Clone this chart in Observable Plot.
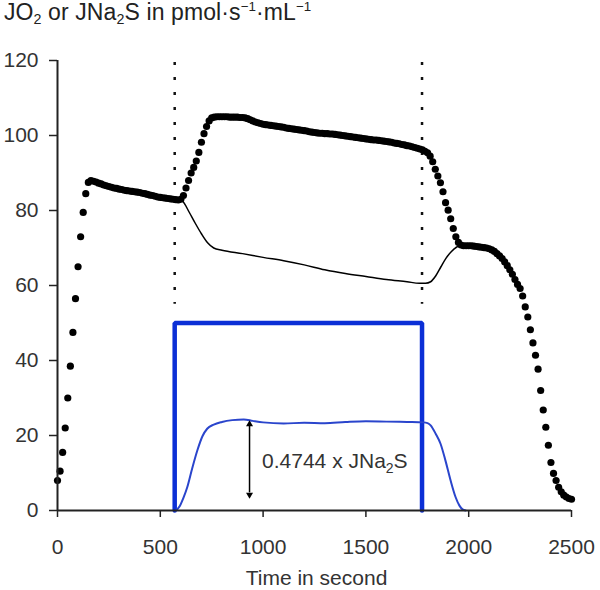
<!DOCTYPE html>
<html>
<head>
<meta charset="utf-8">
<script src="https://cdn.jsdelivr.net/npm/d3@7"></script>
<script src="https://cdn.jsdelivr.net/npm/@observablehq/plot@0.6"></script>
<style>
  html, body { margin: 0; padding: 0; background: #fff; }
  #wrap { width: 600px; height: 590px; font-family: "Liberation Sans", Arial, sans-serif; }
  #title { height: 30px; line-height: 24px; font-size: 23px; color: #222; padding-left: 4px; white-space: nowrap; letter-spacing: 0.1px; }
  #title .sub { font-size: 0.62em; position: relative; top: 0.3em; }
  #title .sup { font-size: 0.58em; position: relative; top: -0.7em; }
</style>
</head>
<body>
<div id="wrap">
  <div id="title">JO<span class="sub">2</span> or JNa<span class="sub">2</span>S in pmol·s<span class="sup">−1</span>·mL<span class="sup">−1</span></div>
  <div id="chart"></div>
</div>
<script>
// ---- data ----
const jo2Step = 12.5; // sampling interval of the JO2 trace, seconds
const jo2Values = [
  8, 10.5, 15.5, 22, 30, 38.5, 47.5, 56.5,
  65, 73, 79.5, 84.5, 87.5, 88, 87.8, 87.6,
  87.3, 87.1, 86.8, 86.6, 86.4, 86.2, 86.0, 85.9,
  85.7, 85.6, 85.4, 85.3, 85.2, 85.1, 85.0, 84.9,
  84.8, 84.6, 84.5, 84.3, 84.1, 84.0, 83.8, 83.6,
  83.5, 83.4, 83.3, 83.2, 83.1, 83.0, 82.9, 82.8,
  83.0, 84.0, 86.0, 88.0, 90.0, 91.5, 93.2, 95.5,
  98.2, 100.5, 102.4, 103.9, 104.7, 104.9, 105.0, 105.0,
  105.0, 105.0, 105.0, 104.9, 104.9, 104.9, 104.9, 104.8,
  104.8, 104.7, 104.5, 104.2, 103.9, 103.6, 103.4, 103.2,
  103.0, 102.9, 102.8, 102.7, 102.6, 102.5, 102.4, 102.3,
  102.2, 102.0, 101.9, 101.8, 101.7, 101.6, 101.5, 101.4,
  101.3, 101.2, 101.0, 100.9, 100.8, 100.7, 100.6, 100.6,
  100.5, 100.5, 100.4, 100.4, 100.3, 100.2, 100.1, 100.0,
  99.9, 99.8, 99.7, 99.6, 99.5, 99.4, 99.3, 99.2,
  99.1, 99.0, 98.9, 98.8, 98.8, 98.7, 98.6, 98.5,
  98.4, 98.3, 98.2, 98.0, 97.9, 97.8, 97.6, 97.5,
  97.3, 97.2, 97.0, 96.8, 96.6, 96.4, 96.2, 95.8,
  95.4, 94.5, 93.0, 91.0, 89.2, 87.4, 85.0, 82.1,
  80.1, 77.8, 75.2, 73.0, 71.5, 70.8, 70.6, 70.6,
  70.6, 70.6, 70.5, 70.4, 70.3, 70.2, 70.1, 70.0,
  69.8, 69.5, 69.1, 68.5, 67.9, 67.2, 66.3, 65.3,
  64.2, 63.0, 61.6, 60.3, 59.2, 57.2, 54.3, 51.6,
  48.2, 44.7, 41.4, 37.7, 32.0, 26.8, 22.2, 17.4,
  12.8, 9.9, 8.0, 6.2, 5.0, 4.1, 3.6, 3.2,
  3.0
];
const jo2Time = jo2Values.map((_, i) => i * jo2Step);

// JO2 corrected (thin black line)
const corrTime   = [590, 610, 640, 670, 700, 730, 760, 800, 900, 1000, 1100, 1200, 1300, 1400, 1500, 1600, 1700, 1760, 1790, 1815, 1840, 1865, 1890, 1915, 1940, 1958];
const corrValues = [83.0, 82.4, 79.6, 76.6, 73.8, 71.4, 70.0, 69.4, 68.5, 67.5, 66.6, 65.5, 64.2, 63.2, 62.4, 61.6, 61.0, 60.6, 60.6, 61.0, 62.6, 65.0, 67.3, 69.0, 70.2, 70.7];

// 0.4744 x JNa2S (thin blue line)
const sulfTime   = [575, 595, 612, 631, 655, 680, 705, 728, 760, 800, 850, 906, 950, 1000, 1100, 1200, 1300, 1400, 1500, 1600, 1700, 1780, 1800, 1815, 1840, 1863, 1887, 1912, 1936, 1955, 1970, 1985];
const sulfValues = [0, 1.2, 3.3, 6.2, 11.2, 16, 19.8, 21.8, 22.9, 23.6, 24.1, 24.3, 23.9, 23.5, 23.2, 23.4, 23.3, 23.6, 23.8, 23.7, 23.6, 23.5, 23.3, 22.7, 20.4, 17.8, 13.3, 8.0, 3.6, 1.3, 0.3, 0];

// Na2S titration window (thick blue step)
const stepTime   = [570, 570, 1773, 1773];
const stepValues = [0, 50, 50, 0];

// dotted markers
const markerTimes = [570, 1773];
const markerFrom = 119.5, markerTo = 55;

// arrow + label
const arrowTime = 934, arrowLow = 3.2, arrowHigh = 24;
const annotation = "0.4744 x JNa2S";
const annotationTime = 995, annotationValue = 13.0;

const xTicks = [0, 500, 1000, 1500, 2000, 2500];
const yTicks = [0, 20, 40, 60, 80, 100, 120];
const xLabel = "Time in second";

// ---- tables ----
const jo2 = jo2Values.map((v, i) => ({t: jo2Time[i], v}));
const corr = corrValues.map((v, i) => ({t: corrTime[i], v}));
const sulf = sulfValues.map((v, i) => ({t: sulfTime[i], v}));
const step = stepValues.map((v, i) => ({t: stepTime[i], v}));

const blueThick = "#0b2fd6";
const blueThin = "#2a45cc";

const plot = Plot.plot({
  width: 600,
  height: 560,
  marginLeft: 57,
  marginRight: 29,
  marginTop: 30,
  marginBottom: 80,
  style: {fontFamily: "'Liberation Sans', Arial, sans-serif", fontSize: "21px", color: "#333", background: "#fff"},
  x: {domain: [0, 2500]},
  y: {domain: [0, 120]},
  marks: [
    Plot.ruleX(markerTimes, {x: d => d, y1: markerFrom, y2: markerTo, stroke: "#111", strokeWidth: 2.5, strokeDasharray: "3,12"}),
    Plot.line(step, {x: "t", y: "v", stroke: blueThick, strokeWidth: 4.5, strokeLinejoin: "miter"}),
    Plot.line(sulf, {x: "t", y: "v", stroke: blueThin, strokeWidth: 2, curve: "monotone-x"}),
    Plot.dot(jo2, {x: "t", y: "v", r: 3.6, fill: "#000", stroke: null}),
    Plot.line(corr, {x: "t", y: "v", stroke: "#000", strokeWidth: 1.5, curve: "monotone-x"}),
    Plot.ruleX([arrowTime], {y1: arrowLow + 1.5, y2: arrowHigh - 1.5, stroke: "#000", strokeWidth: 1.5}),
    Plot.dot([{t: arrowTime, v: arrowHigh - 1.0, a: 0}, {t: arrowTime, v: arrowLow + 1.0, a: 180}],
      {x: "t", y: "v", symbol: "triangle", r: 2.6, fill: "#000", stroke: null, rotate: "a"}),
    Plot.text([annotation], {x: annotationTime, y: annotationValue, text: d => d, textAnchor: "start", fill: "#333", fontSize: 21}),
    Plot.ruleY([0], {x1: 0, x2: 2500, stroke: "#222", strokeWidth: 2}),
    Plot.ruleX([0], {y1: 0, y2: 120, stroke: "#222", strokeWidth: 2}),
    Plot.axisX({ticks: xTicks, tickSize: 7, tickPadding: 22, tickFormat: "d", label: null, stroke: "#222", strokeWidth: 1.5}),
    Plot.axisY({ticks: yTicks, tickSize: 8, tickPadding: 11, tickFormat: "d", label: null, stroke: "#222", strokeWidth: 1.5}),
    Plot.text([xLabel], {frameAnchor: "bottom", lineAnchor: "middle", dy: 68, dx: 2, text: d => d, fill: "#333", fontSize: 21})
  ]
});

// subscript in annotation
d3.select(plot).selectAll("text").filter(function() { return this.textContent === annotation; }).each(function() {
  const el = d3.select(this);
  el.text(null);
  el.append("tspan").text("0.4744 x JNa");
  el.append("tspan").attr("dy", 5).attr("font-size", 14).text("2");
  el.append("tspan").attr("dy", -5).text("S");
});

document.getElementById("chart").appendChild(plot);
</script>
</body>
</html>
